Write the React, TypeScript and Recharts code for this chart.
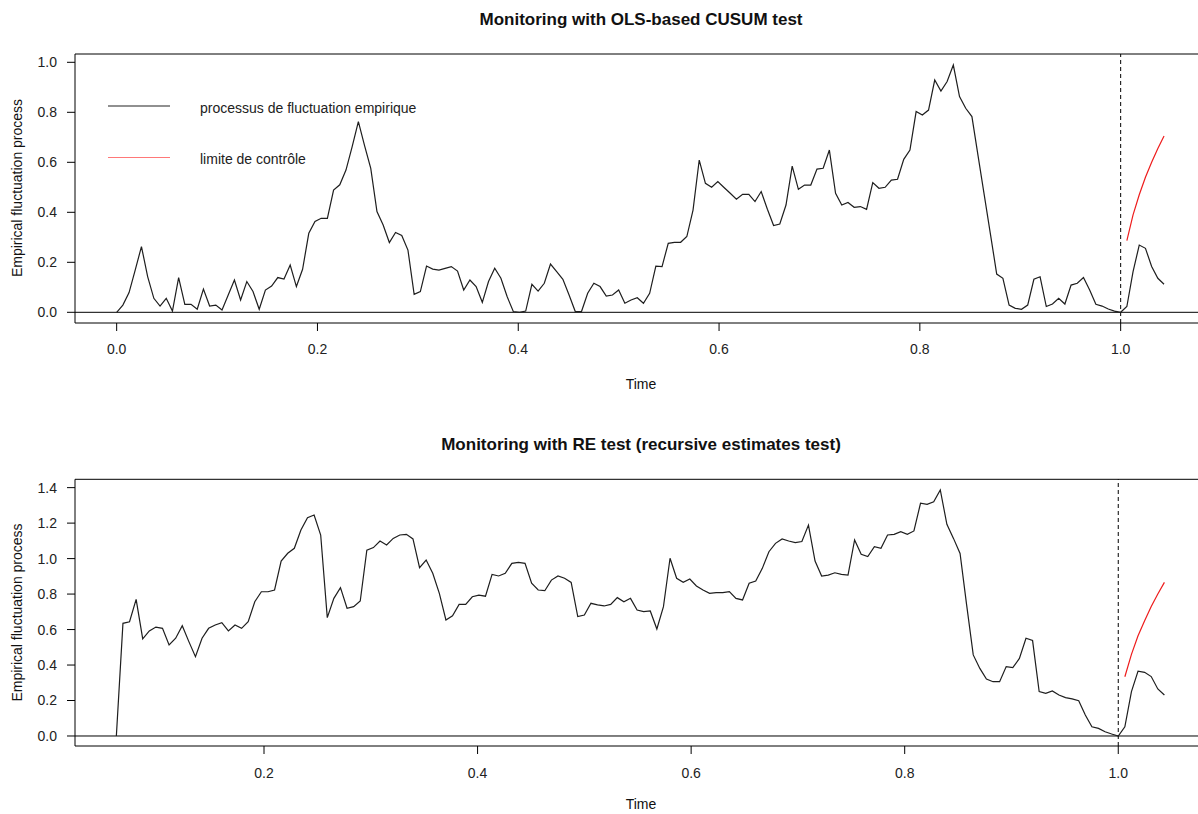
import React from 'react';
import { LineChart, Line, XAxis, YAxis, ReferenceLine, ReferenceArea, Legend } from 'recharts';

// ---- data (time index t = i / N_HIST) ----
const N_HIST = 162;

const OLS_START = 0;
const OLS_PROCESS = [
  0, 0.029, 0.079, 0.17, 0.263, 0.143, 0.056, 0.025, 0.056, 0.005,
  0.139, 0.032, 0.032, 0.012, 0.093, 0.025, 0.029, 0.009, 0.069, 0.129,
  0.049, 0.123, 0.083, 0.012, 0.089, 0.105, 0.139, 0.133, 0.189, 0.103,
  0.172, 0.316, 0.363, 0.376, 0.376, 0.489, 0.51, 0.569, 0.663, 0.763,
  0.667, 0.576, 0.403, 0.349, 0.279, 0.319, 0.307, 0.249, 0.072, 0.083,
  0.185, 0.173, 0.169, 0.176, 0.183, 0.165, 0.089, 0.129, 0.103, 0.04,
  0.123, 0.176, 0.136, 0.063, 0.003, 0, 0.005, 0.112, 0.085, 0.116,
  0.193, 0.163, 0.132, 0.069, 0.003, 0.003, 0.076, 0.116, 0.103, 0.065,
  0.069, 0.089, 0.036, 0.049, 0.058, 0.036, 0.076, 0.185, 0.183, 0.276,
  0.28, 0.28, 0.303, 0.409, 0.609, 0.516, 0.5, 0.523, 0.499, 0.476,
  0.452, 0.472, 0.472, 0.443, 0.483, 0.412, 0.347, 0.353, 0.429, 0.585,
  0.492, 0.509, 0.509, 0.573, 0.576, 0.649, 0.476, 0.429, 0.439, 0.42,
  0.423, 0.412, 0.519, 0.496, 0.5, 0.529, 0.532, 0.612, 0.649, 0.803,
  0.789, 0.809, 0.929, 0.885, 0.923, 0.989, 0.863, 0.816, 0.783, 0.625,
  0.468, 0.311, 0.153, 0.136, 0.029, 0.016, 0.012, 0.029, 0.132, 0.142,
  0.023, 0.033, 0.056, 0.033, 0.109, 0.116, 0.139, 0.089, 0.032, 0.025,
  0.013, 0.005, 0, 0.023, 0.163, 0.269, 0.256, 0.183, 0.136, 0.112,
];
const OLS_BOUND_START = 163;
const OLS_BOUND = [0.287, 0.39, 0.47, 0.54, 0.6, 0.655, 0.705];

const RE_START = 10;
const RE_PROCESS = [
  0, 0.635, 0.644, 0.77, 0.547, 0.592, 0.614, 0.607, 0.513, 0.551,
  0.622, 0.532, 0.447, 0.551, 0.607, 0.626, 0.639, 0.592, 0.626, 0.607,
  0.644, 0.757, 0.813, 0.813, 0.823, 0.986, 1.03, 1.058, 1.161, 1.231,
  1.246, 1.133, 0.667, 0.776, 0.836, 0.72, 0.729, 0.761, 1.048, 1.062,
  1.099, 1.077, 1.114, 1.133, 1.137, 1.111, 0.949, 0.992, 0.917, 0.804,
  0.654, 0.678, 0.742, 0.742, 0.785, 0.794, 0.788, 0.911, 0.902, 0.917,
  0.973, 0.979, 0.973, 0.861, 0.823, 0.819, 0.879, 0.902, 0.889, 0.866,
  0.673, 0.682, 0.748, 0.739, 0.733, 0.742, 0.78, 0.757, 0.776, 0.71,
  0.701, 0.705, 0.603, 0.729, 1.002, 0.889, 0.866, 0.885, 0.846, 0.823,
  0.804, 0.808, 0.808, 0.814, 0.776, 0.767, 0.861, 0.874, 0.945, 1.039,
  1.086, 1.111, 1.099, 1.09, 1.096, 1.189, 0.986, 0.902, 0.907, 0.92,
  0.911, 0.907, 1.105, 1.024, 1.011, 1.067, 1.058, 1.133, 1.137, 1.152,
  1.137, 1.156, 1.312, 1.306, 1.32, 1.387, 1.193, 1.114, 1.029, 0.738,
  0.457, 0.381, 0.321, 0.306, 0.306, 0.391, 0.385, 0.437, 0.551, 0.538,
  0.25, 0.24, 0.254, 0.231, 0.216, 0.209, 0.199, 0.118, 0.052, 0.043,
  0.024, 0.011, 0, 0.052, 0.25, 0.366, 0.359, 0.335, 0.265, 0.231,
];
const RE_BOUND_START = 163;
const RE_BOUND = [0.334, 0.46, 0.565, 0.65, 0.73, 0.8, 0.866];

const TOP_X_TICKS = [0, 0.2, 0.4, 0.6, 0.8, 1.0];
const TOP_Y_TICKS = [0, 0.2, 0.4, 0.6, 0.8, 1.0];
const BOT_X_TICKS = [0.2, 0.4, 0.6, 0.8, 1.0];
const BOT_Y_TICKS = [0, 0.2, 0.4, 0.6, 0.8, 1.0, 1.2, 1.4];

const TITLE_TOP = 'Monitoring with OLS-based CUSUM test';
const TITLE_BOT = 'Monitoring with RE test (recursive estimates test)';
const X_LABEL = 'Time';
const Y_LABEL = 'Empirical fluctuation process';
const LEGEND_PROCESS = 'processus de fluctuation empirique';
const LEGEND_BOUND = 'limite de contrôle';

// ---- layout ----
const FONT = "'Liberation Sans', Arial, Helvetica, sans-serif";
const TOP_X_DOMAIN: [number, number] = [-0.0415, 1.086];
const TOP_Y_DOMAIN: [number, number] = [-0.0428, 1.0332];
const BOT_X_DOMAIN: [number, number] = [0.023, 1.0831];
const BOT_Y_DOMAIN: [number, number] = [-0.0564, 1.447];

function buildRows(process: number[], start: number, bound: number[], boundStart: number) {
  return process.map((v, k) => {
    const i = start + k;
    const j = i - boundStart;
    return { t: i / N_HIST, v, b: j >= 0 && j < bound.length ? bound[j] : null };
  });
}

const topRows = buildRows(OLS_PROCESS, OLS_START, OLS_BOUND, OLS_BOUND_START);
const botRows = buildRows(RE_PROCESS, RE_START, RE_BOUND, RE_BOUND_START);

const fmt = (v: number) => v.toFixed(1);
const tickStyle = { fill: '#222', fontSize: 14, fontFamily: FONT };

const renderLegend = () => (
  <svg width={330} height={72} style={{ display: 'block' }}>
    <line x1={0} y1={8} x2={62} y2={8} stroke="#222" strokeWidth={1.2} />
    <text x={92} y={15} fontSize={14} fontFamily={FONT} fill="#222">{LEGEND_PROCESS}</text>
    <line x1={0} y1={59.5} x2={62} y2={59.5} stroke="#ff7878" strokeWidth={1} />
    <text x={92} y={65.5} fontSize={14} fontFamily={FONT} fill="#222">{LEGEND_BOUND}</text>
  </svg>
);

function Panel(props: {
  rows: any[];
  xDomain: [number, number];
  yDomain: [number, number];
  xTicks: number[];
  yTicks: number[];
  top: number;
  xAxisHeight: number;
  xTickMargin: number;
  legend?: boolean;
}) {
  const { rows, xDomain, yDomain, xTicks, yTicks, top, xAxisHeight, xTickMargin, legend } = props;
  return (
    <LineChart
      width={1207}
      height={400}
      data={rows}
      margin={{ top, right: 0, bottom: 0, left: 0 }}
      style={{ fontFamily: FONT }}
    >
      <XAxis
        type="number"
        dataKey="t"
        domain={xDomain}
        allowDataOverflow
        ticks={xTicks}
        interval={0}
        tickFormatter={fmt}
        axisLine={false}
        tickLine={{ stroke: '#000' }}
        tickSize={8}
        tickMargin={xTickMargin}
        height={xAxisHeight}
        tick={tickStyle}
      />
      <YAxis
        type="number"
        domain={yDomain}
        allowDataOverflow
        ticks={yTicks}
        interval={0}
        tickFormatter={fmt}
        axisLine={false}
        tickLine={{ stroke: '#000' }}
        tickSize={8}
        tickMargin={10}
        width={75}
        tick={tickStyle}
      />
      <ReferenceArea
        x1={xDomain[0]}
        x2={xDomain[1]}
        y1={yDomain[0]}
        y2={yDomain[1]}
        fill="none"
        fillOpacity={0}
        stroke="#000"
        strokeWidth={1}
        ifOverflow="visible"
      />
      <ReferenceLine y={0} stroke="#000" strokeWidth={1} />
      <ReferenceLine x={1} stroke="#000" strokeWidth={1} strokeDasharray="4 3" />
      <Line
        type="linear"
        dataKey="v"
        stroke="#1e1e1e"
        strokeWidth={1.2}
        dot={false}
        isAnimationActive={false}
      />
      <Line
        type="linear"
        dataKey="b"
        stroke="#ee1c1c"
        strokeWidth={1.2}
        dot={false}
        connectNulls={false}
        isAnimationActive={false}
      />
      {legend ? (
        <Legend
          layout="horizontal"
          align="center"
          verticalAlign="middle"
          content={renderLegend}
          wrapperStyle={{ left: 108, top: 98, width: 330, height: 72 }}
        />
      ) : null}
    </LineChart>
  );
}

export default function App() {
  return (
    <div
      style={{
        position: 'absolute',
        left: 0,
        top: 0,
        width: 1198,
        height: 814,
        overflow: 'hidden',
        background: '#fff',
        fontFamily: FONT,
      }}
    >
      <div style={{ position: 'absolute', left: 0, top: 0 }}>
        <Panel
          rows={topRows}
          xDomain={TOP_X_DOMAIN}
          yDomain={TOP_Y_DOMAIN}
          xTicks={TOP_X_TICKS}
          yTicks={TOP_Y_TICKS}
          top={54}
          xAxisHeight={77}
          xTickMargin={13}
          legend
        />
      </div>
      <div style={{ position: 'absolute', left: 0, top: 420 }}>
        <Panel
          rows={botRows}
          xDomain={BOT_X_DOMAIN}
          yDomain={BOT_Y_DOMAIN}
          xTicks={BOT_X_TICKS}
          yTicks={BOT_Y_TICKS}
          top={59.3}
          xAxisHeight={74}
          xTickMargin={14}
        />
      </div>
      <svg
        width={1198}
        height={814}
        style={{ position: 'absolute', left: 0, top: 0, pointerEvents: 'none' }}
      >
        <g fontFamily={FONT} fill="#111">
          <text x={641} y={25} textAnchor="middle" fontSize={17} fontWeight="bold">{TITLE_TOP}</text>
          <text x={641} y={450} textAnchor="middle" fontSize={17} fontWeight="bold">{TITLE_BOT}</text>
          <text x={641} y={389} textAnchor="middle" fontSize={14}>{X_LABEL}</text>
          <text x={641} y={809} textAnchor="middle" fontSize={14}>{X_LABEL}</text>
          <text x={22} y={188} textAnchor="middle" fontSize={14} transform="rotate(-90 22 188)">{Y_LABEL}</text>
          <text x={22} y={612.5} textAnchor="middle" fontSize={14} transform="rotate(-90 22 612.5)">{Y_LABEL}</text>
        </g>
      </svg>
    </div>
  );
}
